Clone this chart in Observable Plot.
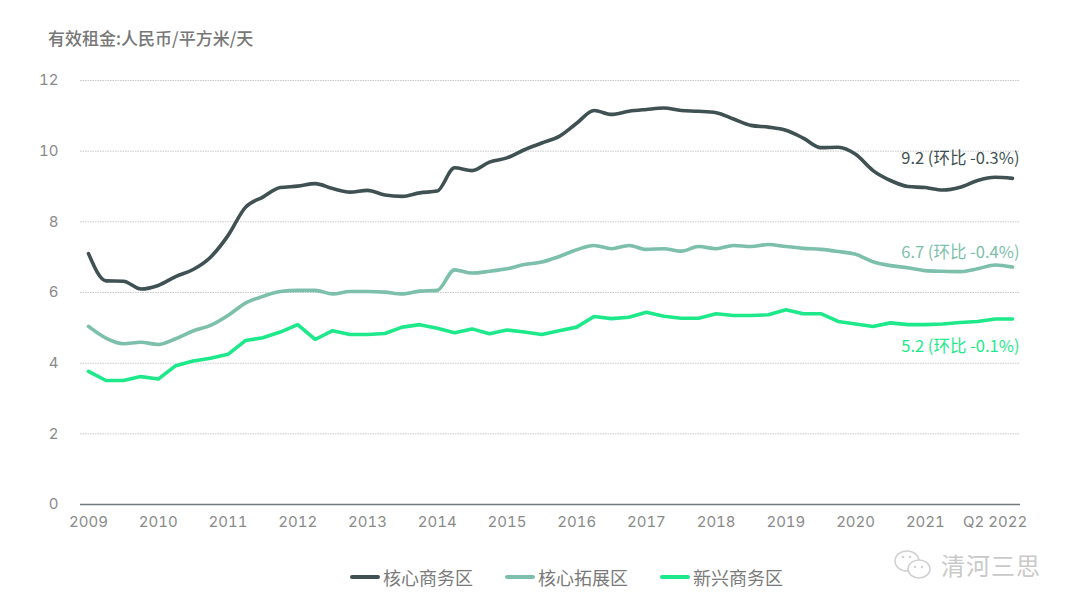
<!DOCTYPE html>
<html>
<head>
<meta charset="utf-8">
<script src="https://cdn.jsdelivr.net/npm/d3@7"></script>
<script src="https://cdn.jsdelivr.net/npm/@observablehq/plot@0.6"></script>
<style>
  html, body { margin: 0; padding: 0; background: #fff; }
  body { width: 1080px; height: 612px; position: relative; overflow: hidden; font-family: "Noto Sans CJK SC", "Noto Sans", sans-serif; }
  #title { position: absolute; left: 48px; top: 25px; font-size: 17px; color: #777; font-weight: 500; }
  #chart { position: absolute; left: 0; top: 60px; }
  #legend { position: absolute; left: 350px; top: 564px; display: flex; align-items: center; font-size: 18px; color: #7a7a7a; }
  .item { display: flex; align-items: center; margin-right: 32px; }
  .sw { width: 30px; height: 4px; border-radius: 2px; margin-right: 3px; }
  #wm { position: absolute; left: 893px; top: 547px; display: flex; align-items: center; font-size: 24px; color: #c9c9c9; letter-spacing: 1px; }
  #wm svg { margin-right: 8px; }
</style>
</head>
<body>
<div id="title"></div>
<div id="chart"></div>
<div id="legend"></div>
<div id="wm"><svg width="40" height="34" viewBox="0 0 40 34"><ellipse cx="14" cy="13" rx="12" ry="10" fill="none" stroke="#d0d0d0" stroke-width="1.5"/><ellipse cx="26" cy="21" rx="11" ry="9" fill="#fff" stroke="#d0d0d0" stroke-width="1.5"/><circle cx="10" cy="9" r="1.3" fill="#d0d0d0"/><circle cx="17" cy="9" r="1.3" fill="#d0d0d0"/><circle cx="22" cy="19" r="1.2" fill="#d0d0d0"/><circle cx="29" cy="19" r="1.2" fill="#d0d0d0"/></svg><span>清河三思</span></div>
<script>
const title = "有效租金:人民币/平方米/天";
const seriesNames = ["核心商务区", "核心拓展区", "新兴商务区"];
const seriesColors = ["#3f5152", "#7cbfab", "#1de98b"];
const startYear = 2009; // 2009 Q1, quarterly through 2022 Q2
const yearTicks = [2009,2010,2011,2012,2013,2014,2015,2016,2017,2018,2019,2020,2021,2022];
const yearTickLabels = ["2009","2010","2011","2012","2013","2014","2015","2016","2017","2018","2019","2020","2021","Q2 2022"];
const yTicks = [0,2,4,6,8,10,12];
const endLabels = ["9.2 (环比 -0.3%)", "6.7 (环比 -0.4%)", "5.2 (环比 -0.1%)"];

const core = [7.10,6.33,6.32,6.10,6.20,6.45,6.65,7.00,7.61,8.41,8.70,8.97,9.01,9.08,8.94,8.84,8.89,8.76,
  8.72,8.82,8.87,9.53,9.45,9.69,9.81,10.04,10.23,10.42,10.79,11.15,11.04,11.13,11.18,11.22,11.15,11.13,11.09,
  10.91,10.73,10.68,10.59,10.37,10.10,10.11,9.91,9.45,9.17,9.00,8.97,8.90,8.98,9.17,9.26,9.23];
const ext = [5.04,4.71,4.55,4.59,4.53,4.69,4.91,5.07,5.35,5.70,5.89,6.03,6.06,6.06,5.96,6.03,6.03,6.01,
  5.96,6.04,6.06,6.64,6.55,6.60,6.67,6.79,6.86,7.02,7.21,7.33,7.24,7.33,7.22,7.24,7.17,7.30,7.24,
  7.33,7.30,7.36,7.30,7.25,7.22,7.16,7.08,6.87,6.76,6.70,6.62,6.60,6.59,6.67,6.78,6.72];
const emerging = [3.77,3.51,3.51,3.62,3.55,3.93,4.06,4.14,4.25,4.64,4.72,4.88,5.09,4.67,4.92,4.81,4.81,4.84,
  5.02,5.09,4.99,4.86,4.97,4.83,4.94,4.88,4.81,4.92,5.02,5.32,5.26,5.30,5.44,5.33,5.27,5.27,5.40,
  5.35,5.35,5.37,5.51,5.40,5.40,5.18,5.11,5.04,5.14,5.09,5.09,5.11,5.15,5.18,5.25,5.25];

const seriesValues = [core, ext, emerging];
const rows = [];
seriesValues.forEach((vals, s) => vals.forEach((v, i) => rows.push({t: startYear + i / 4, v, s: seriesNames[s]})));
const last = seriesValues.map((vals, s) => ({t: startYear + (vals.length - 1) / 4, v: vals[vals.length - 1], s: seriesNames[s], label: endLabels[s]}));

document.getElementById("title").textContent = title;

const colorOf = Object.fromEntries(seriesNames.map((n, i) => [n, seriesColors[i]]));
const labelDy = [-20, -14, 28];

const plot = Plot.plot({
  width: 1080,
  height: 490,
  marginLeft: 80,
  marginRight: 60,
  marginTop: 20,
  marginBottom: 46,
  insetLeft: 8,
  insetRight: 8,
  style: {fontFamily: "Inter, 'Noto Sans CJK SC', sans-serif", fontSize: "15px", color: "#8a8a8a", background: "#fff"},
  x: {domain: [startYear, last[0].t]},
  y: {domain: [0, 12]},
  marks: [
    Plot.ruleY(yTicks.filter(d => d > 0), {stroke: "#c8c8c8", strokeWidth: 1, strokeDasharray: "1.5,1"}),
    Plot.ruleY([0], {stroke: "#6f7a7c", strokeWidth: 1.5}),
    Plot.axisY(yTicks, {tickSize: 0, tickPadding: 22, fill: "#8a8a8a", fontSize: 15, label: null}),
    Plot.axisX(yearTicks, {tickSize: 0, tickPadding: 12, fill: "#8a8a8a", fontSize: 15, label: null,
      tickFormat: d => yearTickLabels[yearTicks.indexOf(d)]}),
    ...seriesNames.map((n, k) => Plot.line(rows.filter(r => r.s === n), {
      x: "t", y: "v", stroke: colorOf[n], strokeWidth: 3.6, curve: k < 2 ? "monotone-x" : "linear",
      strokeLinejoin: "round", strokeLinecap: "round"
    })),
    ...last.map((d, k) => Plot.text([d], {
      x: "t", y: "v", text: "label", textAnchor: "end", dx: 7, dy: labelDy[k],
      fill: seriesColors[k], fontSize: 16.5, fontFamily: "'Noto Sans CJK SC', sans-serif"
    }))
  ]
});
document.getElementById("chart").appendChild(plot);

const legend = document.getElementById("legend");
seriesNames.forEach((n, i) => {
  const it = document.createElement("div");
  it.className = "item";
  const sw = document.createElement("div");
  sw.className = "sw";
  sw.style.background = seriesColors[i];
  const tx = document.createElement("span");
  tx.textContent = n;
  it.appendChild(sw); it.appendChild(tx);
  legend.appendChild(it);
});
</script>
</body>
</html>
